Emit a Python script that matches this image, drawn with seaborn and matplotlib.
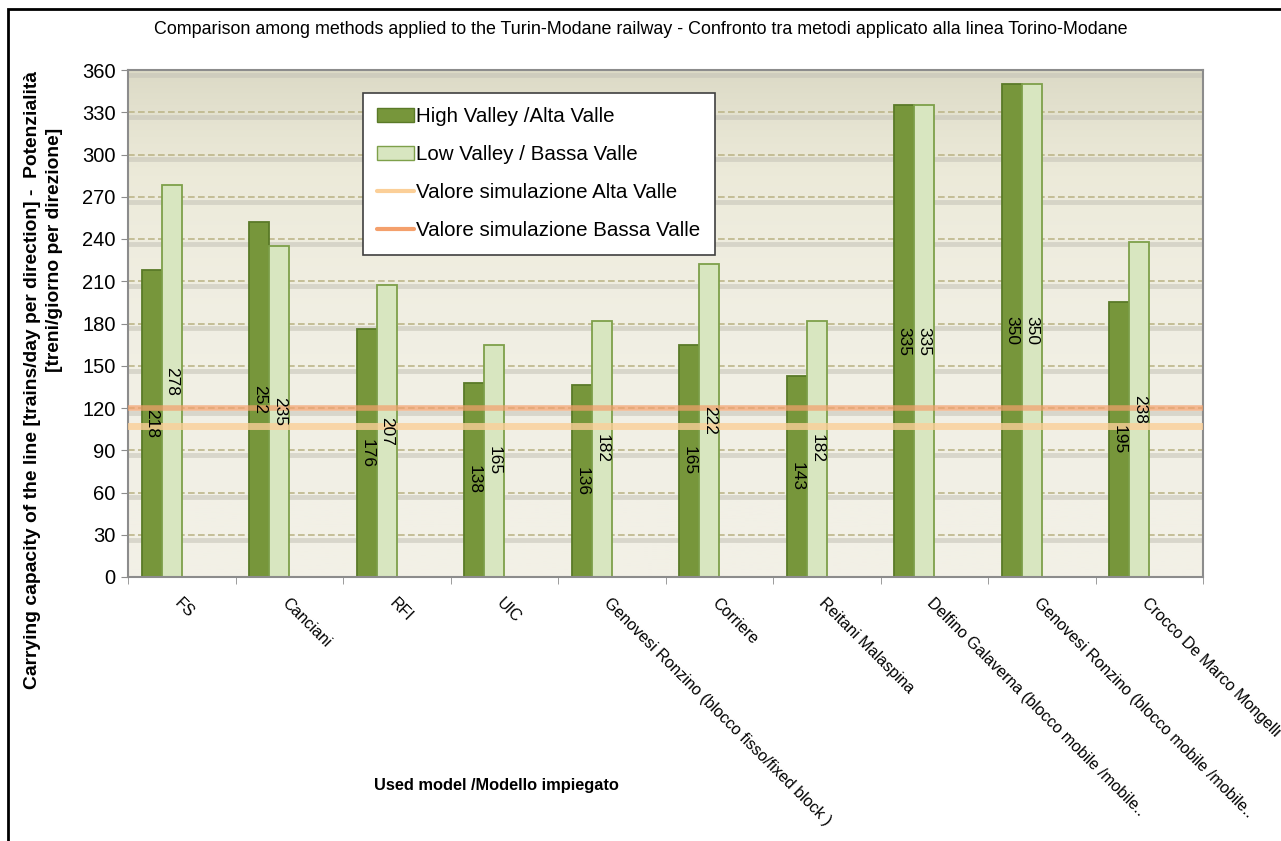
import numpy as np
import pandas as pd
import matplotlib
matplotlib.use("Agg")
import matplotlib.pyplot as plt
from matplotlib.patches import Patch, Rectangle
from matplotlib.lines import Line2D
from matplotlib.colors import LinearSegmentedColormap
import seaborn as sns

# --- data ---
models = [
    "FS",
    "Canciani",
    "RFI",
    "UIC",
    "Genovesi Ronzino (blocco fisso/fixed block )",
    "Corriere",
    "Reitani Malaspina",
    "Delfino Galaverna (blocco mobile /mobile..",
    "Genovesi Ronzino (blocco mobile /mobile..",
    "Crocco De Marco Mongelli",
]
high_valley = [218, 252, 176, 138, 136, 165, 143, 335, 350, 195]
low_valley = [278, 235, 207, 165, 182, 222, 182, 335, 350, 238]
sim_alta = 107
sim_bassa = 120
y_ticks = list(range(0, 361, 30))

hv_name = "High Valley /Alta Valle"
lv_name = "Low Valley / Bassa Valle"

df = pd.DataFrame({
    "model": models * 2,
    "series": [hv_name] * len(models) + [lv_name] * len(models),
    "value": high_valley + low_valley,
})

dark_green = "#77963b"
light_green = "#d8e6c0"
dark_edge = "#5a7a28"
light_edge = "#7ea04a"
alta_color = "#fbcf98"
bassa_color = "#f4a06c"

sns.set_style("white")
plt.rcParams["font.family"] = ["Liberation Sans", "DejaVu Sans"]
plt.rcParams["text.color"] = "black"
plt.rcParams["axes.labelcolor"] = "black"
plt.rcParams["xtick.color"] = "black"
plt.rcParams["ytick.color"] = "black"

fig = plt.figure(figsize=(12.81, 8.41), dpi=100)
ax = fig.add_axes([128 / 1281, 1 - 577 / 841, 1075 / 1281, 507 / 841])

# background gradient of the plot area
cmap = LinearSegmentedColormap.from_list("bg", ["#f2f0e6", "#ecead9", "#dcdac6"])
grad = np.linspace(0, 1, 256).reshape(-1, 1)
ax.imshow(grad ** 3, extent=[0, 1, 0, 1], transform=ax.transAxes, aspect="auto",
          cmap=cmap, origin="lower", zorder=0)

bar_w = 0.186
sns.barplot(data=df, x="model", y="value", hue="series", order=models,
            hue_order=[hv_name, lv_name], palette=[dark_green, light_green],
            width=bar_w * 2, saturation=1, legend=False, ax=ax, zorder=2)

for cont, ec in zip(ax.containers, [dark_edge, light_edge]):
    for bar in cont:
        bar.set_x(bar.get_x() - bar_w)
        bar.set_edgecolor(ec)
        bar.set_linewidth(1.3)
        h = bar.get_height()
        ax.text(bar.get_x() + bar.get_width() / 2, h / 2, f"{h:.0f}",
                rotation=270, ha="center", va="center", fontsize=12.5,
                color="black", zorder=5)

# grid lines with soft shadow
for t in y_ticks[1:-1]:
    ax.axhline(t - 3.5, color="#c4c2b6", lw=3.5, alpha=0.55, zorder=0.6)
    ax.axhline(t, color="#bdb68a", lw=1.2, ls=(0, (4, 2)), zorder=0.8)
ax.axhline(360 - 3.5, color="#c4c2b6", lw=3.5, alpha=0.55, zorder=0.6)

# simulation values
ax.axhline(sim_alta, color=alta_color, lw=5, alpha=0.8, zorder=3)
ax.axhline(sim_bassa, color=bassa_color, lw=4, alpha=0.7, zorder=3)

ax.set_xlim(-0.5, len(models) - 0.5)
ax.set_ylim(0, 360)
ax.set_yticks(y_ticks)
ax.tick_params(axis="y", labelsize=14.5, length=5, direction="out", color="#8c8c8c",
               left=True, pad=4)
ax.set_xticks(range(len(models)))
ax.set_xticklabels(models, rotation=-45, ha="left", va="top",
                   rotation_mode="anchor", fontsize=11.5)
ax.set_xticks(np.arange(-0.5, len(models), 1), minor=True)
ax.tick_params(axis="x", which="major", length=0, pad=13)
ax.tick_params(axis="x", which="minor", length=5, direction="out",
               color="#8c8c8c", bottom=True)
for s in ax.spines.values():
    s.set_color("#8c8c8c")
    s.set_linewidth(1.5)

ax.set_xlabel("Used model /Modello impiegato", fontsize=11.8, fontweight="bold")
ax.xaxis.set_label_coords(0.343, -0.397)
ax.set_ylabel("")

fig.text(33 / 1281, 1 - 380 / 841,
         "Carrying capacity of the line [trains/day per direction] -  Potenzialità",
         rotation=90, ha="center", va="center", fontsize=13.9, fontweight="bold")
fig.text(55 / 1281, 1 - 250 / 841, "[treni/giorno per direzione]",
         rotation=90, ha="center", va="center", fontsize=13.9, fontweight="bold")

fig.text(641 / 1281, 1 - 30 / 841,
         "Comparison among methods applied to the Turin-Modane railway - "
         "Confronto tra metodi applicato alla linea Torino-Modane",
         ha="center", va="center", fontsize=12.9)

handles = [
    Patch(facecolor=dark_green, edgecolor=dark_edge),
    Patch(facecolor=light_green, edgecolor=light_edge),
    Line2D([0], [0], color=alta_color, lw=3),
    Line2D([0], [0], color=bassa_color, lw=3),
]
labels = [hv_name, lv_name, "Valore simulazione Alta Valle",
          "Valore simulazione Bassa Valle"]
leg = ax.legend(handles, labels, loc="upper left",
                bbox_to_anchor=((363 - 128) / 1075, (577 - 93) / 507),
                fontsize=14.8, frameon=True, fancybox=False, framealpha=1,
                edgecolor="#404040", labelspacing=0.92, handlelength=1.8,
                handletextpad=0.1, borderpad=0.7, borderaxespad=0)
leg.get_frame().set_linewidth(1.2)
leg.set_zorder(10)

# outer frame of the figure
fig.patches.append(Rectangle((8 / 1281, -0.1), 1.2, 1.1 - 9 / 841,
                             transform=fig.transFigure, fill=False,
                             ec="black", lw=2))

fig.savefig("out.png", dpi=100)
